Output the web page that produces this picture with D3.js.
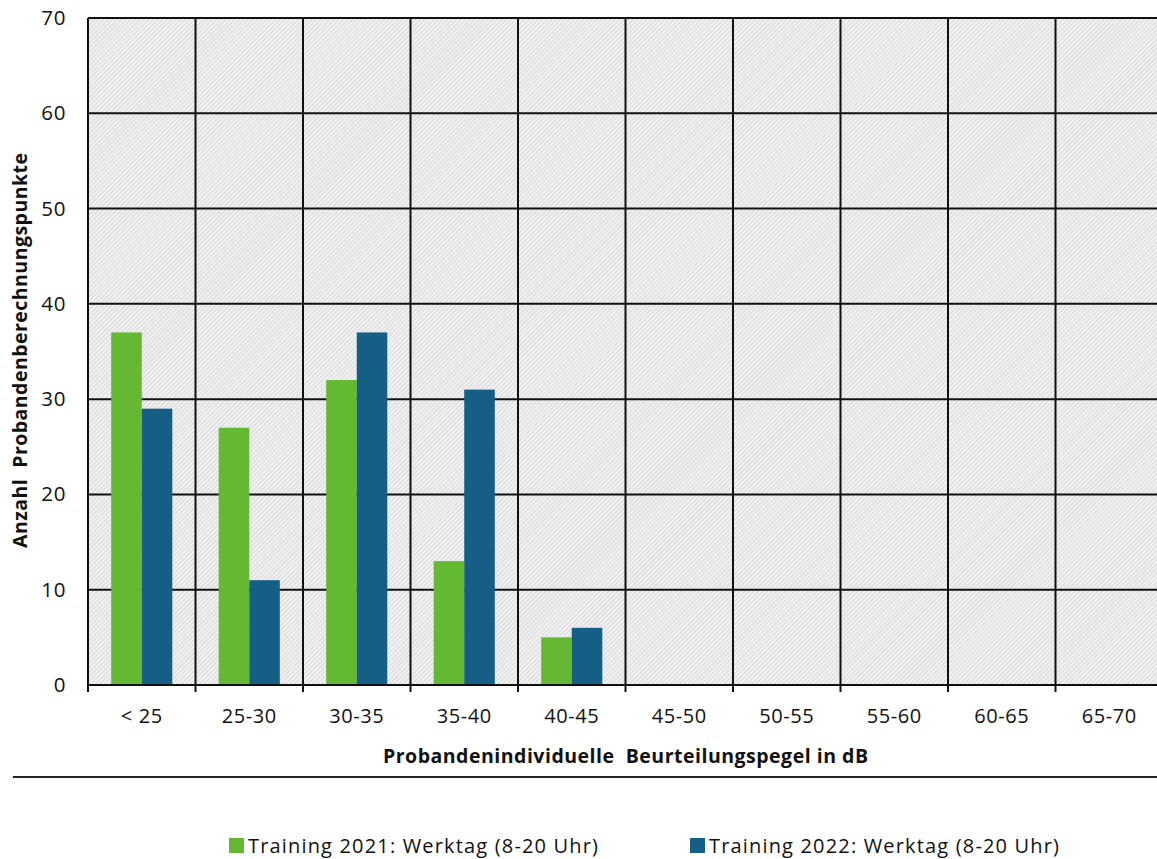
<!DOCTYPE html>
<html>
<head>
<meta charset="utf-8">
<script src="https://cdn.jsdelivr.net/npm/d3@7"></script>
<style>
  html, body { margin: 0; padding: 0; background: #fff; }
  svg { display: block; font-family: "Open Sans", Lato, sans-serif; }
</style>
</head>
<body>
<svg id="chart" width="1157" height="859"></svg>
<script>
// Categories: individual rating levels in dB
const categories = ["< 25", "25-30", "30-35", "35-40", "40-45", "45-50", "50-55", "55-60", "60-65", "65-70"];
// Counts per category for each training series
const series2021 = [37, 27, 32, 13, 5, 0, 0, 0, 0, 0];
const series2022 = [29, 11, 37, 31, 6, 0, 0, 0, 0, 0];
const seriesNames = ["Training 2021: Werktag (8-20 Uhr)", "Training 2022: Werktag (8-20 Uhr)"];
const seriesColors = ["#64b832", "#155e86"];
const yTicks = [0, 10, 20, 30, 40, 50, 60, 70];

const svg = d3.select("#chart");
const plotLeft = 88, plotTop = 18, plotBottom = 685;
const bandW = 107.5;
const plotRight = plotLeft + bandW * categories.length;

const x = d3.scaleBand().domain(categories).range([plotLeft, plotRight]).paddingInner(0).paddingOuter(0);
const inner = d3.scaleBand().domain([0, 1]).range([0, x.bandwidth()]).paddingInner(0).paddingOuter(0.76);
const y = d3.scaleLinear().domain([0, 70]).range([plotBottom, plotTop]);

// Diagonal hatch fill for the plot area
const defs = svg.append("defs");
const pat = defs.append("pattern")
  .attr("id", "hatch").attr("patternUnits", "userSpaceOnUse")
  .attr("width", 3.2).attr("height", 3.2)
  .attr("patternTransform", "rotate(45)");
pat.append("rect").attr("width", 3.2).attr("height", 3.2).attr("fill", "#f4f4f4");
pat.append("rect").attr("x", 0).attr("width", 1.3).attr("height", 3.2).attr("fill", "#dadada");

svg.append("rect")
  .attr("x", plotLeft).attr("y", plotTop)
  .attr("width", plotRight - plotLeft).attr("height", plotBottom - plotTop)
  .attr("fill", "url(#hatch)");

// Horizontal gridlines
svg.append("g")
  .selectAll("line").data(yTicks).join("line")
  .attr("x1", plotLeft).attr("x2", plotRight)
  .attr("y1", d => y(d)).attr("y2", d => y(d))
  .attr("stroke", "#111").attr("stroke-width", 2);

// Vertical gridlines at category boundaries
const bounds = categories.map(c => x(c)).concat([plotRight]);
svg.append("g")
  .selectAll("line").data(bounds).join("line")
  .attr("x1", d => d).attr("x2", d => d)
  .attr("y1", plotTop).attr("y2", plotBottom)
  .attr("stroke", "#111").attr("stroke-width", 2);

// Bars
const rows = categories.map((c, i) => ({ c, v: [series2021[i], series2022[i]] }));
const groups = svg.append("g").selectAll("g").data(rows).join("g")
  .attr("transform", d => `translate(${x(d.c)},0)`);
groups.selectAll("rect").data(d => d.v.map((v, k) => ({ v, k }))).join("rect")
  .attr("x", d => inner(d.k))
  .attr("width", inner.bandwidth())
  .attr("y", d => y(d.v))
  .attr("height", d => plotBottom - y(d.v))
  .attr("fill", d => seriesColors[d.k]);

// X axis with outward ticks at category boundaries
const xAxis = svg.append("g");
xAxis.append("line")
  .attr("x1", plotLeft).attr("x2", plotRight).attr("y1", plotBottom).attr("y2", plotBottom)
  .attr("stroke", "#111").attr("stroke-width", 2);
xAxis.selectAll("line.tick").data(bounds).join("line")
  .attr("class", "tick")
  .attr("x1", d => d).attr("x2", d => d)
  .attr("y1", plotBottom).attr("y2", plotBottom + 7)
  .attr("stroke", "#111").attr("stroke-width", 2);
xAxis.selectAll("text").data(categories).join("text")
  .attr("x", d => x(d) + x.bandwidth() / 2)
  .attr("y", plotBottom + 38)
  .attr("text-anchor", "middle")
  .attr("font-size", 20)
  .attr("letter-spacing", 0.6)
  .attr("fill", "#111")
  .text(d => d);

// Y axis labels
svg.append("g").selectAll("text").data(yTicks).join("text")
  .attr("x", 66)
  .attr("y", d => y(d) + 7)
  .attr("text-anchor", "end")
  .attr("font-size", 20.5)
  .attr("letter-spacing", 0.6)
  .attr("fill", "#111")
  .text(d => d);

// Axis titles
svg.append("text")
  .attr("x", 383).attr("y", 763)
  .attr("font-size", 19.5).attr("font-weight", "bold")
  .attr("fill", "#111")
  .attr("xml:space", "preserve")
  .attr("textLength", 485).attr("lengthAdjust", "spacing")
  .text("Probandenindividuelle  Beurteilungspegel in dB");

svg.append("text")
  .attr("transform", "translate(27,548) rotate(-90)")
  .attr("font-size", 19.5).attr("font-weight", "bold")
  .attr("fill", "#111")
  .attr("xml:space", "preserve")
  .attr("textLength", 395).attr("lengthAdjust", "spacing")
  .text("Anzahl  Probandenberechnungspunkte");

// Separator line above legend
svg.append("line")
  .attr("x1", 13).attr("x2", 1157).attr("y1", 777).attr("y2", 777)
  .attr("stroke", "#222").attr("stroke-width", 2);

// Legend
const legendX = [229, 690];
const legend = svg.append("g").selectAll("g").data(seriesNames).join("g")
  .attr("transform", (d, i) => `translate(${legendX[i]},838)`);
legend.append("rect").attr("width", 15).attr("height", 15)
  .attr("fill", (d, i) => seriesColors[i]);
legend.append("text")
  .attr("x", 19).attr("y", 15)
  .attr("font-size", 20)
  .attr("fill", "#111")
  .attr("textLength", 350).attr("lengthAdjust", "spacing")
  .text(d => d);
</script>
</body>
</html>
